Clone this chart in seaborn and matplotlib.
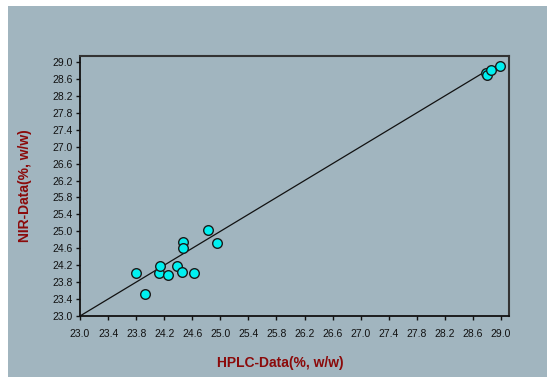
import matplotlib
matplotlib.use("Agg")
import matplotlib.pyplot as plt
from matplotlib.patches import Rectangle
from matplotlib.ticker import FormatStrFormatter
import numpy as np
import pandas as pd
import seaborn as sns

# ---- data ----
hplc = [23.80, 23.92, 24.13, 24.14, 24.25, 24.38, 24.45, 24.47, 24.47, 24.62,
        24.82, 24.95, 28.79, 28.80, 28.86, 28.99]
nir = [24.02, 23.51, 24.02, 24.17, 23.96, 24.17, 24.05, 24.74, 24.61, 24.02,
       25.02, 24.72, 28.75, 28.69, 28.81, 28.91]
fit_x = [23.0, 28.8]
fit_y = [23.0, 28.8]
ticks = [23.0, 23.4, 23.8, 24.2, 24.6, 25.0, 25.4, 25.8, 26.2, 26.6,
         27.0, 27.4, 27.8, 28.2, 28.6, 29.0]
xlabel = "HPLC-Data(%, w/w)"
ylabel = "NIR-Data(%, w/w)"

bg = "#A1B5BF"
sns.set_style("white")
plt.rcParams['font.family'] = ['Liberation Sans', 'DejaVu Sans']

fig = plt.figure(figsize=(5.47, 3.77), dpi=100)
fig.patch.set_facecolor("white")
W, H = 547, 377
fig.patches.append(Rectangle((8 / W, 0), 1 - 8 / W, 1 - 6 / H,
                             transform=fig.transFigure, facecolor=bg,
                             edgecolor="none", zorder=-10))

ax = fig.add_axes([80 / W, 1 - 316 / H, (509 - 80) / W, (316 - 55.5) / H])
ax.set_zorder(5)
ax.set_facecolor(bg)

df = pd.DataFrame({"hplc": hplc, "nir": nir})
line_df = pd.DataFrame({"x": fit_x, "y": fit_y})
sns.lineplot(data=line_df, x="x", y="y", ax=ax, color="#111111",
             linewidth=0.9, zorder=2)
sns.scatterplot(data=df, x="hplc", y="nir", ax=ax, color="#00F0F0",
                edgecolor="#1a1a1a", linewidth=1.0, s=48, zorder=3)

ax.set_xlim(23.0, 29.114)
ax.set_ylim(23.0, 29.154)
ax.set_xticks(ticks)
ax.set_yticks(ticks)
ax.xaxis.set_major_formatter(FormatStrFormatter("%.1f"))
ax.yaxis.set_major_formatter(FormatStrFormatter("%.1f"))
ax.tick_params(axis="both", direction="out", length=3, width=1,
               color="#111111", labelsize=7.5, labelcolor="#111111",
               bottom=True, left=True, top=False, right=False)
ax.tick_params(axis="x", pad=6.5)
ax.tick_params(axis="y", pad=2)

for side in ["left", "bottom"]:
    ax.spines[side].set_color("#111111")
    ax.spines[side].set_linewidth(1.3)
for side in ["top", "right"]:
    ax.spines[side].set_color("#333333")
    ax.spines[side].set_linewidth(1.5)
    ax.spines[side].set_visible(True)

ax.set_xlabel("")
ax.set_ylabel("")
fig.text(280 / W, 1 - 363 / H, xlabel, ha="center", va="center",
         fontsize=10, fontweight="bold", color="#8B0A0A", zorder=6)
fig.text(25 / W, 1 - 186 / H, ylabel, ha="center", va="center",
         rotation=90, fontsize=10, fontweight="bold", color="#8B0A0A", zorder=6)

fig.savefig("out.png", dpi=100, facecolor=fig.get_facecolor())
